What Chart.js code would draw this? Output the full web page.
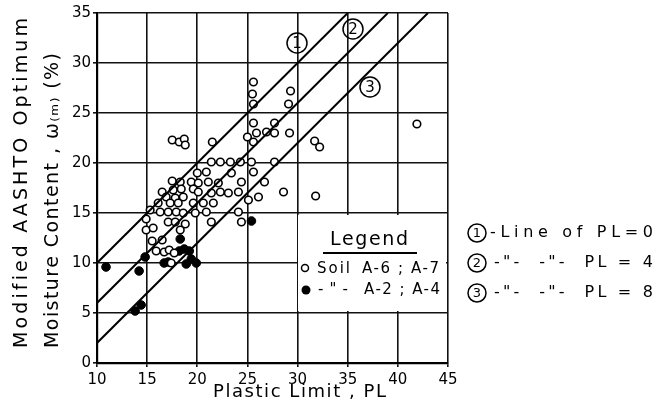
<!DOCTYPE html>
<html>
<head>
<meta charset="utf-8">
<script src="https://cdn.jsdelivr.net/npm/chart.js@4.4.0/dist/chart.umd.min.js"></script>
<style>
  body { margin: 0; background: #fff; }
  canvas { display: block; }
</style>
</head>
<body>
<canvas id="plChart" width="658" height="414"></canvas>
<script>
// soil A-6 ; A-7 (open circles)  [PL, w]
const soilA6A7 = [
  [25.6, 28.1], [25.5, 26.9], [25.6, 25.9], [29.3, 27.2], [29.1, 25.9],
  [25.6, 24.0], [27.7, 24.0], [25.9, 23.0], [26.9, 23.1], [27.7, 23.0], [29.2, 23.0], [25.0, 22.6], [25.6, 22.1],
  [17.5, 22.3], [18.2, 22.1], [18.7, 22.4], [18.8, 21.8], [21.5, 22.1], [31.7, 22.2], [32.2, 21.6],
  [41.9, 23.9], [31.8, 16.7], [28.6, 17.1],
  [21.4, 20.1], [22.3, 20.1], [23.3, 20.1], [24.3, 20.1], [25.4, 20.1], [27.7, 20.1],
  [20.0, 19.0], [20.9, 19.1], [23.4, 19.0], [25.6, 19.1],
  [17.5, 18.2], [18.3, 18.1], [19.4, 18.1], [20.1, 18.0], [21.1, 18.1], [22.1, 18.0], [24.4, 18.1], [26.7, 18.1],
  [16.5, 17.1], [17.6, 17.3], [18.4, 17.4], [19.6, 17.4], [20.1, 17.1], [21.4, 17.0], [22.3, 17.1], [23.1, 17.0], [24.1, 17.1],
  [16.9, 16.6], [17.8, 16.5], [18.6, 16.6], [25.1, 16.3], [26.1, 16.6],
  [16.1, 16.0], [17.3, 16.0], [18.1, 16.0], [19.6, 16.0], [20.6, 16.0], [21.6, 16.0],
  [15.3, 15.3], [16.3, 15.1], [17.1, 15.1], [17.9, 15.1], [18.6, 15.0], [19.8, 15.0], [20.9, 15.1], [24.1, 15.1],
  [14.9, 14.4], [17.1, 14.1], [17.8, 14.1], [18.8, 13.9], [21.4, 14.1], [24.4, 14.1],
  [14.9, 13.3], [15.6, 13.5], [18.3, 13.3],
  [15.5, 12.2], [16.5, 12.3],
  [15.9, 11.2], [16.7, 11.1], [17.2, 11.3], [17.7, 11.0],
  [17.4, 10.0]
];
// soil A-2 ; A-4 (filled circles)
const soilA2A4 = [
  [10.9, 9.6], [14.2, 9.2], [14.8, 10.6], [13.8, 5.2], [14.4, 5.8],
  [18.3, 12.4], [18.2, 11.2], [18.7, 11.4], [19.2, 11.2],
  [16.7, 10.0], [17.1, 10.1], [18.9, 9.9], [19.4, 10.4], [19.9, 10.0],
  [25.4, 14.2]
];
// lines PL = 0, 4, 8 (end points)
const line1 = [[10, 10], [35, 35]];
const line2 = [[10, 6], [39, 35]];
const line3 = [[10, 2], [43, 35]];

const xTicks = [10, 15, 20, 25, 30, 35, 40, 45];
const yTicks = [0, 5, 10, 15, 20, 25, 30, 35];

const toXY = arr => arr.map(p => ({ x: p[0], y: p[1] }));
const FONT = '"DejaVu Sans", sans-serif';

// draw text stretched to a given width with letter spacing
function fitText(ctx, txt, x0, y, w) {
  ctx.letterSpacing = '0px';
  const m = ctx.measureText(txt).width;
  const ls = txt.length > 1 ? (w - m) / (txt.length - 1) : 0;
  ctx.letterSpacing = ls + 'px';
  ctx.textAlign = 'left';
  ctx.fillText(txt, x0, y);
  ctx.letterSpacing = '0px';
}

function circleNum(ctx, n, x, y, r, size) {
  ctx.beginPath();
  ctx.arc(x, y, r, 0, Math.PI * 2);
  ctx.lineWidth = 1.5;
  ctx.strokeStyle = '#000';
  ctx.stroke();
  ctx.font = size + 'px ' + FONT;
  ctx.textAlign = 'center';
  ctx.fillText(String(n), x, y + 1);
}

const textPlugin = {
  id: 'texts',
  beforeDatasetsDraw(chart) {
    // legend box hides the grid
    const ctx = chart.ctx;
    ctx.save();
    ctx.fillStyle = '#fff';
    ctx.fillRect(298, 215, 148, 96);
    ctx.restore();
  },
  afterDraw(chart) {
    const ctx = chart.ctx;
    ctx.save();
    ctx.fillStyle = '#000';
    ctx.textBaseline = 'middle';

    // axis titles
    ctx.font = '18px ' + FONT;
    fitText(ctx, 'Plastic Limit , PL', 213, 392, 173);
    ctx.font = '19px ' + FONT;
    ctx.save();
    ctx.translate(22, 183);
    ctx.rotate(-Math.PI / 2);
    fitText(ctx, 'Modified AASHTO Optimum', -165, 0, 330);
    ctx.restore();
    ctx.save();
    ctx.translate(53, 200);
    ctx.rotate(-Math.PI / 2);
    fitText(ctx, 'Moisture Content , \u03c9\u208d\u2098\u208e (%)', -148, 0, 295);
    ctx.restore();

    // line labels in plot
    circleNum(ctx, 1, 297, 43, 10, 15);
    circleNum(ctx, 2, 353, 29, 10, 15);
    circleNum(ctx, 3, 370, 87, 10, 15);

    // legend box
    ctx.font = '19px ' + FONT;
    fitText(ctx, 'Legend', 330, 240, 78);
    ctx.fillRect(323, 252, 94, 2);
    ctx.font = '15px ' + FONT;
    fitText(ctx, 'Soil', 317, 269, 33);
    fitText(ctx, 'A-6 ; A-7', 362, 269, 77);
    fitText(ctx, '-"-', 318, 290, 30);
    fitText(ctx, 'A-2 ; A-4', 364, 290, 76);
    ctx.beginPath();
    ctx.arc(305, 268, 3.5, 0, Math.PI * 2);
    ctx.lineWidth = 1.5;
    ctx.stroke();
    ctx.beginPath();
    ctx.arc(306, 290, 4.5, 0, Math.PI * 2);
    ctx.fill();

    // right side key
    circleNum(ctx, 1, 477, 233, 9, 13);
    circleNum(ctx, 2, 477, 263, 9, 13);
    circleNum(ctx, 3, 477, 293, 9, 13);
    ctx.font = '16px ' + FONT;
    fitText(ctx, '-Line of PL=0', 490, 233, 163);
    fitText(ctx, '-"-  -"-  PL = 4', 494, 263, 159);
    fitText(ctx, '-"-  -"-  PL = 8', 494, 293, 159);
    ctx.restore();
  }
};

const lineDs = (pts) => ({
  type: 'line',
  data: toXY(pts),
  borderColor: '#000',
  borderWidth: 2,
  pointRadius: 0,
  fill: false
});

new Chart(document.getElementById('plChart').getContext('2d'), {
  type: 'scatter',
  data: {
    datasets: [
      lineDs(line1), lineDs(line2), lineDs(line3),
      {
        label: 'Soil A-6 ; A-7',
        data: toXY(soilA6A7),
        pointStyle: 'circle',
        pointRadius: 3.8,
        borderWidth: 1.6,
        borderColor: '#000',
        backgroundColor: '#fff'
      },
      {
        label: 'A-2 ; A-4',
        data: toXY(soilA2A4),
        pointStyle: 'circle',
        pointRadius: 4.3,
        borderWidth: 1,
        borderColor: '#000',
        backgroundColor: '#000'
      }
    ]
  },
  options: {
    responsive: false,
    animation: false,
    layout: { padding: { left: 0, top: 13, right: 210, bottom: 0 } },
    plugins: { legend: { display: false }, tooltip: { enabled: false } },
    scales: {
      x: {
        type: 'linear', min: 10, max: 45,
        afterBuildTicks: s => { s.ticks = xTicks.map(v => ({ value: v })); },
        afterFit: s => { s.height = 51; },
        ticks: { color: '#000', font: { family: FONT, size: 15 }, padding: 4 },
        grid: { color: '#111', lineWidth: 1.6, tickLength: 4 },
        border: { color: '#000', width: 2.2 }
      },
      y: {
        type: 'linear', min: 0, max: 35,
        afterBuildTicks: s => { s.ticks = yTicks.map(v => ({ value: v })); },
        afterFit: s => { s.width = 97; },
        ticks: { color: '#000', font: { family: FONT, size: 15 }, padding: 2 },
        grid: { color: '#111', lineWidth: 1.6, tickLength: 4 },
        border: { color: '#000', width: 2.2 }
      }
    }
  },
  plugins: [textPlugin]
});
</script>
</body>
</html>
